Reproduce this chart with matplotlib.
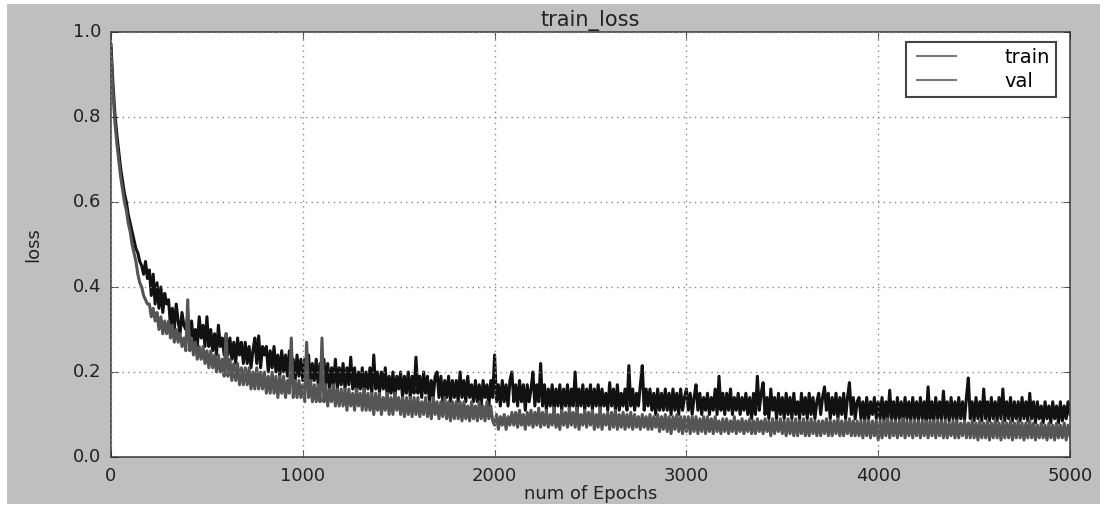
import matplotlib
matplotlib.use("Agg")
import matplotlib.pyplot as plt
from matplotlib.patches import Rectangle

plt.style.use("classic")

# ---- data (one value every 10 epochs) ----
epochs = list(range(0, 5001, 10))

train_loss = [
    0.97, 0.88, 0.81, 0.76, 0.72, 0.68, 0.65, 0.62, 0.60, 0.57,
    0.55, 0.53, 0.51, 0.49, 0.48, 0.46, 0.45, 0.43, 0.46, 0.42,
    0.44, 0.38, 0.43, 0.36, 0.41, 0.35, 0.40, 0.34, 0.385, 0.36,
    0.37, 0.31, 0.35, 0.30, 0.36, 0.32, 0.29, 0.34, 0.31, 0.30,
    0.33, 0.28, 0.32, 0.27, 0.30, 0.26, 0.33, 0.28, 0.31, 0.26,
    0.33, 0.26, 0.30, 0.25, 0.29, 0.24, 0.31, 0.26, 0.28, 0.24,
    0.29, 0.24, 0.28, 0.23, 0.27, 0.22, 0.28, 0.24, 0.27, 0.22,
    0.27, 0.22, 0.26, 0.21, 0.25, 0.28, 0.22, 0.285, 0.21, 0.26,
    0.24, 0.26, 0.20, 0.25, 0.21, 0.26, 0.20, 0.24, 0.19, 0.25,
    0.20, 0.24, 0.19, 0.25, 0.20, 0.23, 0.18, 0.24, 0.19, 0.23,
    0.18, 0.23, 0.19, 0.24, 0.17, 0.22, 0.18, 0.23, 0.17, 0.22,
    0.18, 0.23, 0.17, 0.22, 0.16, 0.21, 0.17, 0.23, 0.16, 0.21,
    0.17, 0.22, 0.16, 0.21, 0.17, 0.235, 0.16, 0.21, 0.15, 0.20,
    0.16, 0.21, 0.15, 0.20, 0.16, 0.21, 0.15, 0.24, 0.16, 0.20,
    0.15, 0.20, 0.16, 0.21, 0.14, 0.19, 0.15, 0.20, 0.14, 0.19,
    0.16, 0.20, 0.14, 0.19, 0.15, 0.20, 0.14, 0.19, 0.15, 0.235,
    0.15, 0.19, 0.14, 0.20, 0.15, 0.19, 0.13, 0.18, 0.14, 0.19,
    0.20, 0.14, 0.19, 0.13, 0.18, 0.14, 0.19, 0.13, 0.18, 0.14,
    0.18, 0.13, 0.20, 0.14, 0.18, 0.13, 0.19, 0.14, 0.17, 0.13,
    0.18, 0.13, 0.17, 0.12, 0.18, 0.14, 0.17, 0.12, 0.18, 0.14,
    0.24, 0.13, 0.17, 0.12, 0.18, 0.13, 0.17, 0.12, 0.18, 0.20,
    0.13, 0.17, 0.12, 0.18, 0.13, 0.17, 0.11, 0.17, 0.13, 0.16,
    0.20, 0.12, 0.17, 0.13, 0.22, 0.12, 0.17, 0.11, 0.16, 0.12,
    0.17, 0.11, 0.16, 0.12, 0.17, 0.11, 0.16, 0.12, 0.17, 0.11,
    0.16, 0.12, 0.20, 0.11, 0.16, 0.12, 0.17, 0.11, 0.16, 0.12,
    0.17, 0.11, 0.16, 0.12, 0.17, 0.11, 0.16, 0.12, 0.15, 0.11,
    0.175, 0.12, 0.16, 0.11, 0.17, 0.11, 0.15, 0.12, 0.16, 0.11,
    0.215, 0.12, 0.16, 0.11, 0.15, 0.12, 0.17, 0.215, 0.11, 0.16,
    0.12, 0.16, 0.11, 0.15, 0.10, 0.16, 0.11, 0.15, 0.11, 0.16,
    0.11, 0.15, 0.10, 0.16, 0.11, 0.15, 0.10, 0.16, 0.11, 0.14,
    0.16, 0.11, 0.15, 0.10, 0.14, 0.17, 0.11, 0.15, 0.10, 0.14,
    0.11, 0.15, 0.10, 0.14, 0.11, 0.16, 0.10, 0.19, 0.11, 0.15,
    0.10, 0.15, 0.11, 0.16, 0.10, 0.14, 0.11, 0.15, 0.10, 0.14,
    0.11, 0.15, 0.10, 0.14, 0.09, 0.15, 0.10, 0.19, 0.11, 0.15,
    0.175, 0.10, 0.14, 0.09, 0.16, 0.11, 0.14, 0.09, 0.15, 0.10,
    0.14, 0.09, 0.15, 0.10, 0.14, 0.09, 0.15, 0.10, 0.13, 0.09,
    0.15, 0.10, 0.14, 0.09, 0.15, 0.10, 0.14, 0.09, 0.13, 0.15,
    0.10, 0.14, 0.165, 0.11, 0.15, 0.09, 0.14, 0.10, 0.15, 0.09,
    0.14, 0.10, 0.15, 0.09, 0.14, 0.175, 0.10, 0.14, 0.09, 0.13,
    0.14, 0.09, 0.13, 0.085, 0.14, 0.09, 0.13, 0.10, 0.14, 0.09,
    0.13, 0.09, 0.14, 0.085, 0.13, 0.09, 0.157, 0.09, 0.13, 0.085,
    0.14, 0.09, 0.13, 0.085, 0.14, 0.09, 0.13, 0.085, 0.14, 0.09,
    0.13, 0.085, 0.14, 0.09, 0.13, 0.085, 0.165, 0.09, 0.13, 0.085,
    0.14, 0.09, 0.13, 0.085, 0.155, 0.09, 0.13, 0.085, 0.14, 0.09,
    0.13, 0.085, 0.14, 0.09, 0.13, 0.085, 0.14, 0.186, 0.09, 0.13,
    0.085, 0.14, 0.09, 0.13, 0.085, 0.16, 0.09, 0.13, 0.085, 0.14,
    0.09, 0.13, 0.085, 0.14, 0.09, 0.16, 0.085, 0.13, 0.09, 0.14,
    0.085, 0.13, 0.09, 0.13, 0.085, 0.14, 0.09, 0.13, 0.085, 0.15,
    0.09, 0.13, 0.08, 0.13, 0.09, 0.12, 0.08, 0.13, 0.09, 0.12,
    0.08, 0.13, 0.09, 0.12, 0.08, 0.13, 0.085, 0.12, 0.09, 0.13,
    0.10,
]

val_loss = [
    0.95, 0.86, 0.79, 0.74, 0.70, 0.66, 0.63, 0.60, 0.58, 0.55,
    0.53, 0.50, 0.48, 0.46, 0.43, 0.41, 0.40, 0.38, 0.37, 0.36,
    0.36, 0.33, 0.35, 0.32, 0.34, 0.30, 0.33, 0.29, 0.32, 0.29,
    0.32, 0.28, 0.31, 0.27, 0.30, 0.27, 0.29, 0.26, 0.28, 0.25,
    0.37, 0.25, 0.28, 0.24, 0.27, 0.23, 0.26, 0.23, 0.26, 0.22,
    0.25, 0.21, 0.25, 0.21, 0.24, 0.20, 0.24, 0.20, 0.23, 0.19,
    0.29, 0.19, 0.23, 0.18, 0.22, 0.18, 0.22, 0.17, 0.21, 0.17,
    0.21, 0.17, 0.21, 0.16, 0.20, 0.16, 0.21, 0.16, 0.20, 0.16,
    0.20, 0.15, 0.19, 0.15, 0.20, 0.15, 0.19, 0.14, 0.19, 0.15,
    0.19, 0.14, 0.18, 0.15, 0.28, 0.14, 0.18, 0.14, 0.18, 0.14,
    0.17, 0.13, 0.27, 0.14, 0.18, 0.13, 0.17, 0.13, 0.17, 0.13,
    0.28, 0.13, 0.17, 0.12, 0.16, 0.13, 0.17, 0.12, 0.16, 0.12,
    0.16, 0.12, 0.16, 0.11, 0.16, 0.12, 0.15, 0.11, 0.16, 0.12,
    0.15, 0.11, 0.16, 0.11, 0.15, 0.11, 0.15, 0.10, 0.15, 0.11,
    0.15, 0.10, 0.14, 0.11, 0.15, 0.10, 0.14, 0.10, 0.15, 0.11,
    0.14, 0.10, 0.14, 0.095, 0.14, 0.10, 0.14, 0.095, 0.14, 0.10,
    0.14, 0.095, 0.13, 0.10, 0.14, 0.095, 0.13, 0.09, 0.14, 0.10,
    0.13, 0.09, 0.13, 0.095, 0.14, 0.09, 0.13, 0.085, 0.13, 0.09,
    0.13, 0.09, 0.13, 0.085, 0.13, 0.09, 0.12, 0.085, 0.13, 0.09,
    0.12, 0.085, 0.13, 0.09, 0.12, 0.085, 0.13, 0.09, 0.12, 0.085,
    0.075, 0.10, 0.065, 0.095, 0.075, 0.10, 0.065, 0.095, 0.075, 0.105,
    0.075, 0.105, 0.07, 0.11, 0.075, 0.10, 0.065, 0.105, 0.075, 0.11,
    0.07, 0.105, 0.075, 0.115, 0.07, 0.105, 0.075, 0.11, 0.07, 0.10,
    0.075, 0.115, 0.07, 0.10, 0.065, 0.11, 0.075, 0.105, 0.07, 0.115,
    0.075, 0.105, 0.07, 0.115, 0.065, 0.10, 0.075, 0.11, 0.07, 0.105,
    0.075, 0.11, 0.065, 0.10, 0.07, 0.115, 0.065, 0.10, 0.075, 0.105,
    0.065, 0.105, 0.07, 0.11, 0.065, 0.10, 0.07, 0.105, 0.065, 0.10,
    0.07, 0.105, 0.065, 0.10, 0.07, 0.095, 0.065, 0.10, 0.07, 0.095,
    0.065, 0.10, 0.065, 0.095, 0.07, 0.10, 0.06, 0.095, 0.065, 0.10,
    0.06, 0.095, 0.055, 0.095, 0.065, 0.10, 0.06, 0.095, 0.055, 0.095,
    0.06, 0.095, 0.055, 0.095, 0.06, 0.095, 0.055, 0.09, 0.06, 0.095,
    0.055, 0.095, 0.06, 0.09, 0.055, 0.095, 0.06, 0.085, 0.055, 0.09,
    0.06, 0.09, 0.055, 0.085, 0.06, 0.095, 0.055, 0.085, 0.06, 0.09,
    0.055, 0.085, 0.06, 0.09, 0.055, 0.085, 0.055, 0.09, 0.06, 0.085,
    0.055, 0.09, 0.06, 0.085, 0.05, 0.09, 0.055, 0.085, 0.06, 0.09,
    0.055, 0.085, 0.05, 0.09, 0.055, 0.085, 0.05, 0.09, 0.05, 0.085,
    0.055, 0.09, 0.05, 0.085, 0.05, 0.09, 0.055, 0.085, 0.05, 0.085,
    0.05, 0.085, 0.055, 0.09, 0.05, 0.085, 0.05, 0.085, 0.055, 0.09,
    0.05, 0.085, 0.05, 0.085, 0.055, 0.09, 0.05, 0.085, 0.05, 0.085,
    0.05, 0.085, 0.045, 0.085, 0.05, 0.085, 0.045, 0.085, 0.05, 0.085,
    0.04, 0.085, 0.045, 0.085, 0.05, 0.09, 0.045, 0.085, 0.05, 0.085,
    0.045, 0.085, 0.05, 0.09, 0.045, 0.085, 0.05, 0.085, 0.045, 0.085,
    0.05, 0.085, 0.045, 0.085, 0.05, 0.085, 0.045, 0.085, 0.05, 0.085,
    0.045, 0.085, 0.05, 0.085, 0.045, 0.085, 0.045, 0.08, 0.05, 0.085,
    0.045, 0.085, 0.045, 0.08, 0.05, 0.085, 0.045, 0.08, 0.045, 0.085,
    0.045, 0.08, 0.04, 0.085, 0.045, 0.08, 0.045, 0.085, 0.04, 0.08,
    0.045, 0.085, 0.045, 0.08, 0.04, 0.085, 0.045, 0.08, 0.045, 0.085,
    0.04, 0.08, 0.045, 0.085, 0.045, 0.08, 0.04, 0.08, 0.045, 0.085,
    0.045, 0.08, 0.04, 0.075, 0.045, 0.08, 0.045, 0.075, 0.04, 0.08,
    0.045, 0.075, 0.04, 0.08, 0.045, 0.075, 0.045, 0.08, 0.04, 0.075,
    0.05,
]

x_ticks = [0, 1000, 2000, 3000, 4000, 5000]
y_ticks = [0.0, 0.2, 0.4, 0.6, 0.8, 1.0]

# ---- figure ----
W, H = 1104, 505
fig = plt.figure(figsize=(W / 100, H / 100), dpi=100)
fig.patch.set_facecolor("white")
fig.patches.append(Rectangle((7 / W, 1 / H), (1100 - 7) / W, (501 - 1) / H,
                             transform=fig.transFigure, facecolor="#bfbfbf",
                             edgecolor="none", zorder=-10))

ax = fig.add_axes([111 / W, (H - 457) / H, (1070 - 111) / W, (457 - 32) / H])
ax.set_facecolor("white")

ax.plot(epochs, train_loss, color="#111111", lw=2.2, label="train")
ax.plot(epochs, val_loss, color="#555555", lw=2.2, label="val")

ax.set_xlim(0, 5000)
ax.set_ylim(0.0, 1.0)
ax.set_xticks(x_ticks)
ax.set_yticks(y_ticks)
ax.set_yticklabels([f"{v:.1f}" for v in y_ticks])
ax.tick_params(labelsize=13, direction="in", length=5, pad=7,
               top=True, right=True, colors="#222222")
for s in ax.spines.values():
    s.set_color("#444444")
    s.set_linewidth(1.2)

ax.grid(True, linestyle=":", color="#888888", linewidth=1.0)

ax.set_title("train_loss", fontsize=15, color="#222222", pad=4)
ax.set_xlabel("num of Epochs", fontsize=13, color="#222222", labelpad=0)
ax.set_ylabel("loss", fontsize=13, color="#222222", labelpad=22)

leg = ax.legend(loc="upper right", bbox_to_anchor=(0.9854, 0.9765),
                borderaxespad=0.0, fontsize=14, handlelength=2.6,
                handletextpad=2.2, borderpad=0.3, labelspacing=0.28,
                fancybox=False, frameon=True)
leg.get_frame().set_edgecolor("#444444")
leg.get_frame().set_linewidth(1.5)
for line in leg.get_lines():
    line.set_color("#777777")
    line.set_linewidth(1.5)

fig.savefig("out.png", dpi=100, facecolor=fig.get_facecolor())
